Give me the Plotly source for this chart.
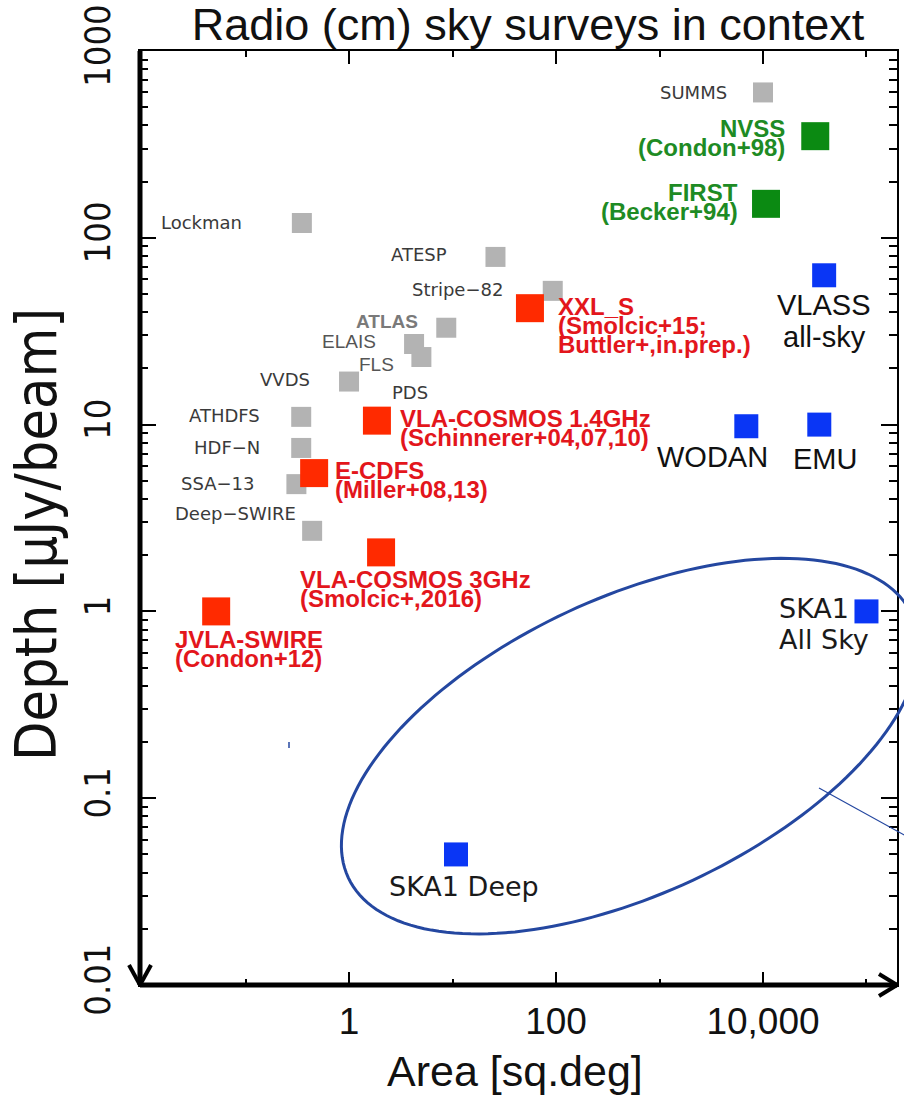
import numpy as np
import plotly.graph_objects as go

# ---------------- data ----------------
gray_names = ["SUMMS", "Lockman", "ATESP", "Stripe\u221282", "ATLAS", "ELAIS", "FLS",
              "VVDS", "PDS", "ATHDFS", "HDF\u2212N", "SSA\u221213", "Deep\u2212SWIRE"]
gray_area = [10000, 0.35, 26, 93, 8.7, 4.25, 5.0, 1.0, 1.86, 0.345, 0.345, 0.31, 0.44]
gray_depth = [600, 120, 79, 52, 33, 27, 23, 17, 10.5, 11, 7.5, 4.8, 2.7]

red_names = ["XXL_S", "VLA-COSMOS 1.4GHz", "E-CDFS", "VLA-COSMOS 3GHz", "JVLA-SWIRE"]
red_refs = [["(Smolcic+15;", "Buttler+,in.prep.)"], ["(Schinnerer+04,07,10)"],
            ["(Miller+08,13)"], ["(Smolcic+,2016)"], ["(Condon+12)"]]
red_area = [56, 1.86, 0.46, 2.04, 0.052]
red_depth = [42, 10.5, 5.5, 2.07, 1.0]

green_names = ["NVSS", "FIRST"]
green_refs = [["(Condon+98)"], ["(Becker+94)"]]
green_area = [32000, 10700]
green_depth = [350, 152]

blue_labels = [["VLASS", "all-sky"], ["WODAN"], ["EMU"], ["SKA1", "All Sky"], ["SKA1 Deep"]]
blue_area = [39000, 6900, 35000, 100000, 10.8]
blue_depth = [63, 9.8, 10, 1.0, 0.05]

x_tickvals = [1, 100, 10000]
x_ticktext = ["1", "100", "10,000"]
x_minor = [0.1, 10, 1000, 100000]
y_tickvals = [0.01, 0.1, 1, 10, 100, 1000]
y_ticktext = ["0.01", "0.1", "1", "10", "100", "1000"]

# ellipse (SKA1 region) : centre in data units
ell_center_area, ell_center_depth = 520, 0.19

# ---------------- layout geometry/styles ----------------
W, H = 904, 1096
ML, MR, MT, MB = 140, 7, 51, 111
XR = [-2.02, 5.295]
YR = [-2.0, 3.0]
PW, PH = W - ML - MR, H - MT - MB

def paper(area, depth):
    return ((np.log10(area) - XR[0]) / (XR[1] - XR[0]),
            (np.log10(depth) - YR[0]) / (YR[1] - YR[0]))

fig = go.Figure()

def add_pts(a, d, color, size):
    fig.add_trace(go.Scatter(x=a, y=d, mode="markers", cliponaxis=False,
                             marker=dict(symbol="square", size=size, color=color,
                                         line=dict(width=0)),
                             hoverinfo="skip", showlegend=False))

add_pts(gray_area, gray_depth, "#b3b3b3", 20)
add_pts(red_area, red_depth, "#ff2a00", 28)
add_pts(green_area, green_depth, "#0b8a12", 28)
add_pts(blue_area, blue_depth, "#0a36f5", 24)

ann = []

def label(area, depth, lines, font, xanchor, xshift, yshifts):
    for ln, ys in zip(lines, yshifts):
        ann.append(dict(x=np.log10(area), y=np.log10(depth), xref="x", yref="y",
                        text=ln, showarrow=False, xanchor=xanchor, yanchor="middle",
                        xshift=xshift, yshift=ys, font=font))

GRAY_FONT = dict(family="DejaVu Sans", size=18, color="#3a3a3a")
gray_style = [("right", -34, 0), ("right", -58, 1), ("right", -46, 2), ("right", -48, 1),
              ("right", -26, 6), ("right", -36, 3), ("right", -25, -7), ("right", -37, 2),
              ("center", 33, 28), ("right", -39, 1), ("right", -39, 0), ("right", -39, 1),
              ("right", -14, 17)]
for n, a, d, (xa, xs, ys) in zip(gray_names, gray_area, gray_depth, gray_style):
    f = dict(GRAY_FONT)
    if n == "ATLAS":
        f = dict(family="Liberation Sans", size=19, color="#7a7a7a", weight="bold")
    elif n in ("ELAIS", "FLS"):
        f = dict(family="Liberation Sans", size=19, color="#555555")
    label(a, d, [n], f, xa, xs, [ys])

RED_FONT = dict(family="Liberation Sans", size=24, color="#e3161c", weight="bold")
red_style = [("left", 26, 2), ("left", 21, 2), ("left", 19, 3), ("left", -83, -27), ("left", -43, -28)]
for n, refs, a, d, (xa, xs, ys) in zip(red_names, red_refs, red_area, red_depth, red_style):
    lines = [n] + refs
    label(a, d, lines, RED_FONT, xa, xs, [ys - 19 * i for i in range(len(lines))])

GREEN_FONT = dict(family="Liberation Sans", size=24, color="#1e8b24", weight="bold")
green_style = [("right", -28, 8), ("right", -26, 11)]
for n, refs, a, d, (xa, xs, ys) in zip(green_names, green_refs, green_area, green_depth, green_style):
    lines = [n] + refs
    label(a, d, lines, GREEN_FONT, xa, xs, [ys - 19 * i for i in range(len(lines))])

BLUE_FONT = dict(family="Liberation Sans", size=29, color="#111111")
SKA_FONT = dict(family="DejaVu Sans", size=27, color="#1a1a1a")
blue_style = [("center", 0, -30, 32, BLUE_FONT), ("center", -34, -31, 0, BLUE_FONT),
              ("center", 6, -34, 0, BLUE_FONT), ("left", -89, 3, 31, SKA_FONT),
              ("center", 8, -32, 0, SKA_FONT)]
for lines, a, d, (xa, xs, ys, sp, f) in zip(blue_labels, blue_area, blue_depth, blue_style):
    label(a, d, lines, f, xa, xs, [ys - sp * i for i in range(len(lines))])

# axis titles as paper annotations (exact placement)
ann.append(dict(x=(515 - ML) / PW, y=-(1071 - (MT + PH)) / PH, xref="paper", yref="paper",
                showarrow=False, xanchor="center", yanchor="middle", text="Area [sq.deg]",
                font=dict(family="Liberation Sans", size=43, color="#111")))
ann.append(dict(x=-(ML - 36) / PW, y=(MT + PH - 535) / PH, xref="paper", yref="paper",
                showarrow=False, xanchor="center", yanchor="middle", textangle=-90,
                text="Depth [\u00b5Jy/beam]",
                font=dict(family="Liberation Sans Narrow, DejaVu Sans Condensed, Liberation Sans",
                          size=57, color="#111")))

shapes = []
# ellipse path (paper coords)
cxp, cyp = paper(ell_center_area, ell_center_depth)
cx, cy = ML + cxp * PW, MT + (1 - cyp) * PH
a_px, b_px, th = 311, 148, np.deg2rad(25)
t = np.linspace(0, 2 * np.pi, 181)
ex = cx + a_px * np.cos(th) * np.cos(t) - b_px * np.sin(th) * np.sin(t)
ey = cy - (a_px * np.sin(th) * np.cos(t) + b_px * np.cos(th) * np.sin(t))
pts = [((x - ML) / PW, (MT + PH - y) / PH) for x, y in zip(ex, ey)]
path = "M " + " L ".join(f"{px:.5f},{py:.5f}" for px, py in pts) + " Z"
shapes.append(dict(type="path", path=path, xref="paper", yref="paper",
                   line=dict(color="#2447a0", width=3)))

def pline(x0, y0, x1, y1, color, width):
    shapes.append(dict(type="line", xref="paper", yref="paper",
                       x0=(x0 - ML) / PW, x1=(x1 - ML) / PW,
                       y0=(MT + PH - y0) / PH, y1=(MT + PH - y1) / PH,
                       line=dict(color=color, width=width)))

pline(819, 788, 906, 836, "#2447a0", 1.2)
pline(289, 742, 289, 748, "#2447a0", 1.5)

# thick left & bottom axes
shapes.append(dict(type="line", xref="paper", yref="paper", x0=0, x1=0, y0=0, y1=1,
                   line=dict(color="black", width=5)))
shapes.append(dict(type="line", xref="paper", yref="paper", x0=0, x1=1, y0=0, y1=0,
                   line=dict(color="black", width=5)))
# arrow heads
for (dx, dy, xa, ya) in [(-11, 20, 0, 0), (11, 20, 0, 0), (-18, 11, 1, 0), (-18, -11, 1, 0)]:
    shapes.append(dict(type="line", xref="paper", yref="paper",
                       xsizemode="pixel", ysizemode="pixel", xanchor=xa, yanchor=ya,
                       x0=dx, y0=dy, x1=0, y1=0, line=dict(color="black", width=4)))

y_minor = [k * 10.0 ** e for e in range(-2, 3) for k in range(2, 10)]

fig.update_layout(
    width=W, height=H, margin=dict(l=ML, r=MR, t=MT, b=MB, autoexpand=False),
    paper_bgcolor="white", plot_bgcolor="white",
    title=dict(text="Radio (cm) sky surveys in context", x=528 / W, xanchor="center",
               y=1 - 24 / H, yanchor="middle",
               font=dict(family="Liberation Sans", size=45, color="#111")),
    annotations=ann, shapes=shapes,
    xaxis=dict(type="log", range=XR, showgrid=False, zeroline=False, automargin=False,
               showline=True, linecolor="black", linewidth=2, mirror="ticks",
               ticks="inside", ticklen=13, tickwidth=2, tickcolor="black",
               tickvals=x_tickvals, ticktext=x_ticktext, ticklabelstandoff=3,
               tickfont=dict(family="Liberation Sans", size=37, color="#111"),
               minor=dict(tickvals=x_minor, ticks="inside", ticklen=6, tickwidth=2,
                          tickcolor="black")),
    yaxis=dict(type="log", range=YR, showgrid=False, zeroline=False, automargin=False,
               showline=True, linecolor="black", linewidth=2, mirror="ticks",
               ticks="inside", ticklen=16, tickwidth=2, tickcolor="black",
               tickvals=y_tickvals, ticktext=y_ticktext, tickangle=-90,
               ticklabelstandoff=14,
               tickfont=dict(family="Liberation Sans Narrow, DejaVu Sans Condensed, Liberation Sans",
                             size=36, color="#111"),
               minor=dict(tickvals=y_minor, ticks="inside", ticklen=8, tickwidth=2,
                          tickcolor="black")),
)

fig.write_html("out.html", config={"displayModeBar": False},
               post_script="document.body.style.margin='0px';document.body.style.overflow='hidden';")
